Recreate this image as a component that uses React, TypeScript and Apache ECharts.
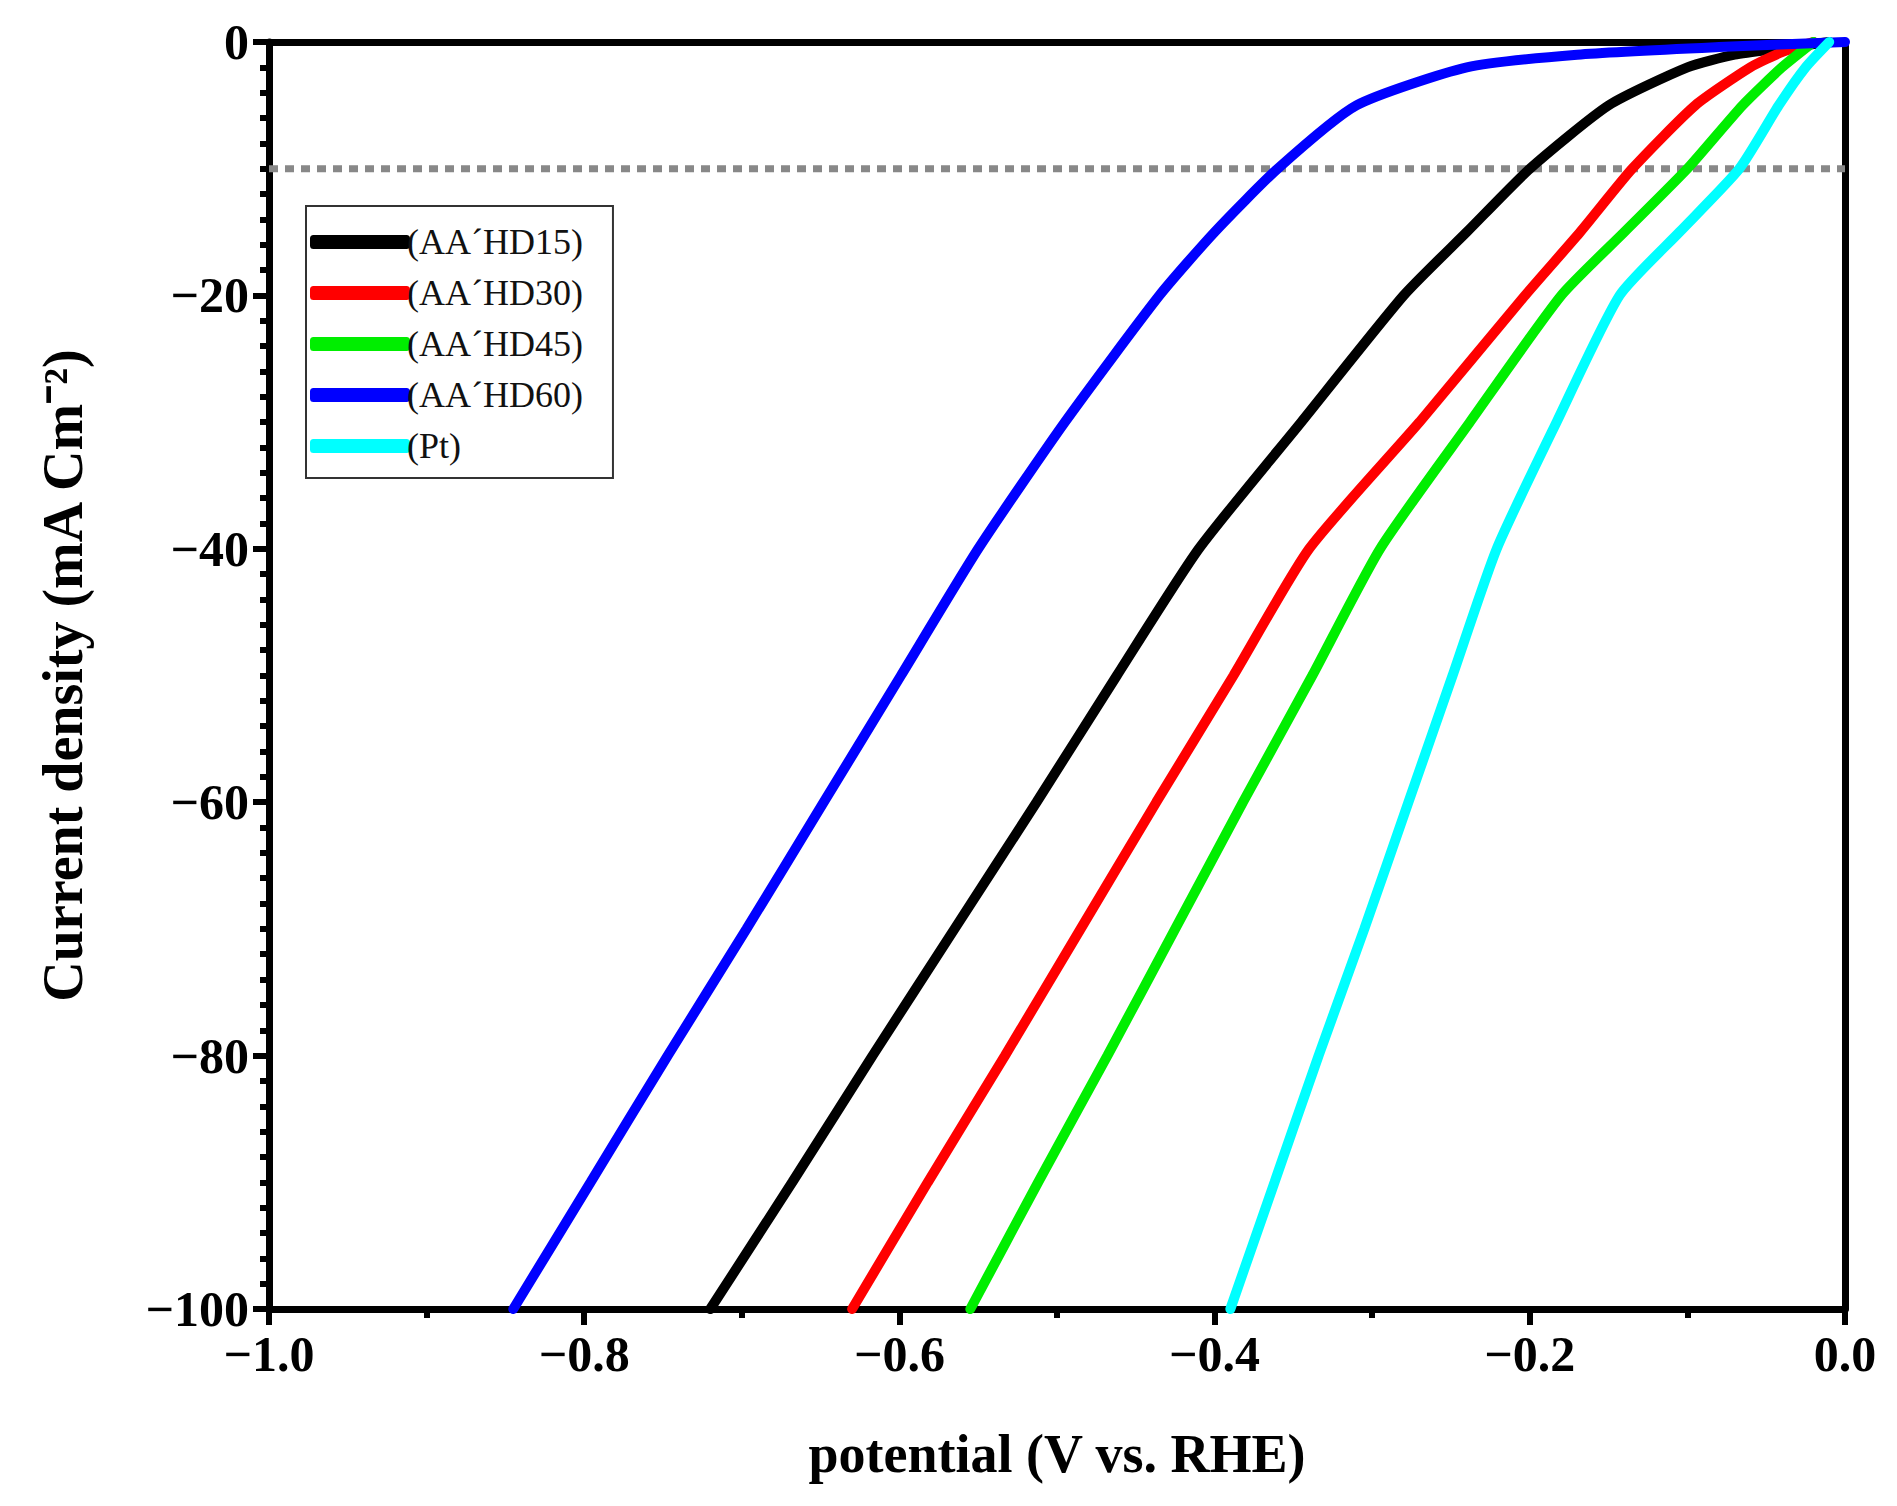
import React, { useEffect, useRef } from 'react';
import * as echarts from 'echarts';

// Polarization curves: [potential (V vs RHE), current density (mA cm^-2)]
const hd15: [number, number][] = [
  [-0.72, -100], [-0.668, -90], [-0.617, -80], [-0.565, -70], [-0.513, -60], [-0.462, -50],
  [-0.41, -40], [-0.345, -30], [-0.28, -20], [-0.24, -15], [-0.2, -10], [-0.15, -5],
  [-0.1, -2], [-0.07, -1], [-0.04, -0.5], [-0.01, 0],
];
const hd30: [number, number][] = [
  [-0.63, -100], [-0.582, -90], [-0.533, -80], [-0.485, -70], [-0.437, -60], [-0.388, -50],
  [-0.34, -40], [-0.27, -30], [-0.203, -20], [-0.168, -15], [-0.135, -10], [-0.095, -5],
  [-0.06, -2], [-0.04, -0.8], [-0.02, 0],
];
const hd45: [number, number][] = [
  [-0.555, -100], [-0.512, -90], [-0.468, -80], [-0.425, -70], [-0.382, -60], [-0.338, -50],
  [-0.295, -40], [-0.238, -30], [-0.18, -20], [-0.14, -15], [-0.1, -10], [-0.065, -5],
  [-0.04, -2], [-0.02, 0],
];
const hd60: [number, number][] = [
  [-0.845, -100], [-0.796, -90], [-0.747, -80], [-0.697, -70], [-0.648, -60], [-0.599, -50],
  [-0.55, -40], [-0.495, -30], [-0.435, -20], [-0.4, -15], [-0.36, -10], [-0.31, -5],
  [-0.24, -2], [-0.17, -1], [-0.08, -0.4], [0, 0],
];
const pt: [number, number][] = [
  [-0.39, -100], [-0.362, -90], [-0.334, -80], [-0.305, -70], [-0.277, -60], [-0.249, -50],
  [-0.221, -40], [-0.183, -30], [-0.143, -20], [-0.105, -15], [-0.067, -10], [-0.042, -5],
  [-0.025, -2], [-0.01, 0],
];

const seriesNames = ['(AA\u00B4HD15)', '(AA\u00B4HD30)', '(AA\u00B4HD45)', '(AA\u00B4HD60)', '(Pt)'];
const seriesData = [hd15, hd30, hd45, hd60, pt];
const seriesColors = ['#000000', '#ff0000', '#00ee00', '#0000ff', '#00ffff'];
const refLineY = -10;

const font = '"Liberation Serif", "Times New Roman", serif';

export default function App() {
  const chartRef = useRef<HTMLDivElement>(null);

  useEffect(() => {
    if (!chartRef.current) return;
    const chart = echarts.init(chartRef.current, undefined, { renderer: 'svg' });

    const axisCommon = {
      axisLine: { show: true, onZero: false, lineStyle: { color: '#000', width: 7 } },
      splitLine: { show: false },
    };

    const option: echarts.EChartsOption = {
      animation: false,
      backgroundColor: '#fff',
      grid: { left: 261, right: 44, top: 34, bottom: 189 },
      legend: {
        orient: 'vertical',
        left: 298,
        top: 198,
        data: seriesNames,
        icon: 'roundRect',
        itemWidth: 100,
        itemHeight: 14,
        itemGap: 15,
        padding: [18, 30, 14, 4],
        borderColor: '#333',
        borderWidth: 2,
        textStyle: { fontFamily: font, fontSize: 36, color: '#111', padding: [0, 0, 0, -8] },
      },
      xAxis: [
        {
          type: 'value',
          min: -1,
          max: 0,
          interval: 0.2,
          name: 'potential (V vs. RHE)',
          nameLocation: 'middle',
          nameGap: 118,
          nameTextStyle: { fontFamily: font, fontSize: 54, fontWeight: 'bold', color: '#000' },
          ...axisCommon,
          axisTick: { show: true, inside: false, length: 16, lineStyle: { width: 6, color: '#000' } },
          minorTick: { show: true, splitNumber: 2, length: 9, lineStyle: { width: 6, color: '#000' } },
          axisLabel: {
            fontFamily: font, fontSize: 50, fontWeight: 'bold', color: '#000', margin: 20,
            formatter: (v: number) => (v < 0 ? '\u2212' : '') + Math.abs(v).toFixed(1),
          },
        },
        {
          type: 'value', min: -1, max: 0, position: 'top',
          ...axisCommon, axisTick: { show: false }, axisLabel: { show: false },
        },
      ],
      yAxis: [
        {
          type: 'value',
          min: -100,
          max: 0,
          interval: 20,
          name: 'Current density (mA Cm\u207B\u00B2)',
          nameLocation: 'middle',
          nameGap: 178,
          nameTextStyle: { fontFamily: font, fontSize: 56, fontWeight: 'bold', color: '#000' },
          ...axisCommon,
          axisTick: { show: true, inside: false, length: 16, lineStyle: { width: 6, color: '#000' } },
          minorTick: { show: true, splitNumber: 10, length: 9, lineStyle: { width: 6, color: '#000' } },
          axisLabel: {
            fontFamily: font, fontSize: 50, fontWeight: 'bold', color: '#000', margin: 20,
            formatter: (v: number) => (v < 0 ? '\u2212' : '') + Math.abs(v),
          },
        },
        {
          type: 'value', min: -100, max: 0, position: 'right',
          ...axisCommon, axisTick: { show: false }, axisLabel: { show: false },
        },
      ],
      series: [
        {
          type: 'line',
          name: 'ref',
          data: [[-1, refLineY], [0, refLineY]],
          symbol: 'none',
          lineStyle: { color: '#888', width: 7, type: [9, 7] },
          z: 1,
        },
        ...seriesData.map((d, i) => ({
          type: 'line' as const,
          name: seriesNames[i],
          data: d,
          smooth: 0.2,
          symbol: 'none',
          color: seriesColors[i],
          lineStyle: { color: seriesColors[i], width: 10, cap: 'round' as const },
          z: 3,
        })),
      ],
    };

    chart.setOption(option);
    return () => chart.dispose();
  }, []);

  return <div ref={chartRef} style={{ width: 1881, height: 1490 }} />;
}
